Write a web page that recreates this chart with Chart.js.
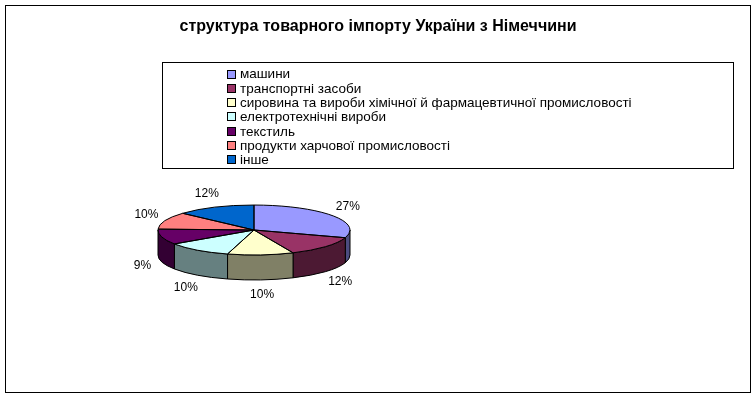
<!DOCTYPE html>
<html lang="uk">
<head>
<meta charset="utf-8" />
<title>структура товарного імпорту</title>
<script src="https://cdn.jsdelivr.net/npm/chart.js@4"></script>
<style>
  body { margin: 0; background: #fff; }
  canvas { display: block; }
</style>
</head>
<body>
<canvas id="pieChart" width="756" height="399"></canvas>
<script>
const titleText = 'структура товарного імпорту України з Німеччини';
const categories = [
  'машини',
  'транспортні засоби',
  'сировина та вироби хімічної й фармацевтичної промисловості',
  'електротехнічні вироби',
  'текстиль',
  'продукти харчової промисловості',
  'інше'
];
const shares = [27, 12, 10, 10, 9, 10, 12]; // підписи у %
const faceColors = ['#9999ff', '#993366', '#ffffcc', '#ccffff', '#660066', '#ff8080', '#0066cc'];
const sideColors = ['#4c4c80', '#4c1933', '#808066', '#668080', '#330033', '#804040', '#003366'];

const tilt = 0.26;  // сплющення верхньої грані
const depth = 25;   // висота бічної стінки
const font = 'Liberation Sans, Arial, sans-serif';

function pieGeom(chart) {
  const arcs = chart.getDatasetMeta(0).data;
  const r = arcs[0].outerRadius;
  return { arcs, cx: arcs[0].x, cy: arcs[0].y, rx: r, ry: r * tilt };
}

// рамка, заголовок, легенда
const frame = {
  id: 'frame',
  beforeDraw(chart) {
    const ctx = chart.ctx;
    ctx.save();
    ctx.fillStyle = '#fff';
    ctx.fillRect(0, 0, chart.width, chart.height);
    ctx.strokeStyle = '#000';
    ctx.lineWidth = 1;
    ctx.strokeRect(5.5, 5.5, 745, 387);
    ctx.fillStyle = '#000';
    ctx.font = 'bold 16px ' + font;
    ctx.textAlign = 'center';
    ctx.textBaseline = 'middle';
    ctx.fillText(titleText, 378, 27);

    ctx.strokeRect(162.5, 62.5, 571, 106);
    ctx.font = '13.5px ' + font;
    ctx.textAlign = 'left';
    categories.forEach((name, i) => {
      const y = 73.5 + i * 14.33;
      ctx.fillStyle = faceColors[i];
      ctx.fillRect(227.5, Math.round(y) - 3.5, 8, 8);
      ctx.strokeRect(227.5, Math.round(y) - 3.5, 8, 8);
      ctx.fillStyle = '#000';
      ctx.fillText(name, 240, y + 1);
    });
    ctx.restore();
  }
};

// об'ємний ефект: бічні стінки + стиснення верхньої грані
const pie3d = {
  id: 'pie3d',
  beforeDatasetsDraw(chart) {
    const ctx = chart.ctx;
    const g = pieGeom(chart);
    ctx.save();
    ctx.lineWidth = 1;
    ctx.strokeStyle = '#000';
    g.arcs.forEach((arc, i) => {
      const a = Math.max(arc.startAngle, 0);
      const b = Math.min(arc.endAngle, Math.PI);
      if (b <= a) return;
      ctx.beginPath();
      ctx.ellipse(g.cx, g.cy, g.rx, g.ry, 0, a, b);
      ctx.ellipse(g.cx, g.cy + depth, g.rx, g.ry, 0, b, a, true);
      ctx.closePath();
      ctx.fillStyle = sideColors[i];
      ctx.fill();
      ctx.stroke();
    });
    ctx.restore();
    ctx.save();
    ctx.translate(g.cx, g.cy);
    ctx.scale(1, tilt);
    ctx.translate(-g.cx, -g.cy);
  },
  afterDatasetsDraw(chart) {
    const ctx = chart.ctx;
    ctx.restore();
    const g = pieGeom(chart);
    ctx.save();
    ctx.lineWidth = 1;
    ctx.strokeStyle = '#000';
    g.arcs.forEach(arc => {
      ctx.beginPath();
      ctx.moveTo(g.cx, g.cy);
      ctx.ellipse(g.cx, g.cy, g.rx, g.ry, 0, arc.startAngle, arc.endAngle);
      ctx.closePath();
      ctx.stroke();
    });
    ctx.fillStyle = '#000';
    ctx.font = '12px ' + font;
    ctx.textAlign = 'center';
    ctx.textBaseline = 'middle';
    g.arcs.forEach((arc, i) => {
      const mid = (arc.startAngle + arc.endAngle) / 2;
      const s = Math.sin(mid);
      const x = g.cx + (g.rx + 20) * Math.cos(mid);
      const y = g.cy + (g.ry + 15) * s + (s > 0 ? depth : 0);
      ctx.fillText(shares[i] + '%', x, y);
    });
    ctx.restore();
  }
};

const ctx = document.getElementById('pieChart').getContext('2d');
new Chart(ctx, {
  type: 'pie',
  data: {
    labels: categories,
    datasets: [{
      data: shares,
      backgroundColor: faceColors,
      borderWidth: 0
    }]
  },
  options: {
    responsive: false,
    animation: false,
    layout: { padding: { left: 158, right: 406, top: 134, bottom: 73 } },
    plugins: {
      legend: { display: false },
      title: { display: false },
      tooltip: { enabled: false }
    }
  },
  plugins: [frame, pie3d]
});
</script>
</body>
</html>
